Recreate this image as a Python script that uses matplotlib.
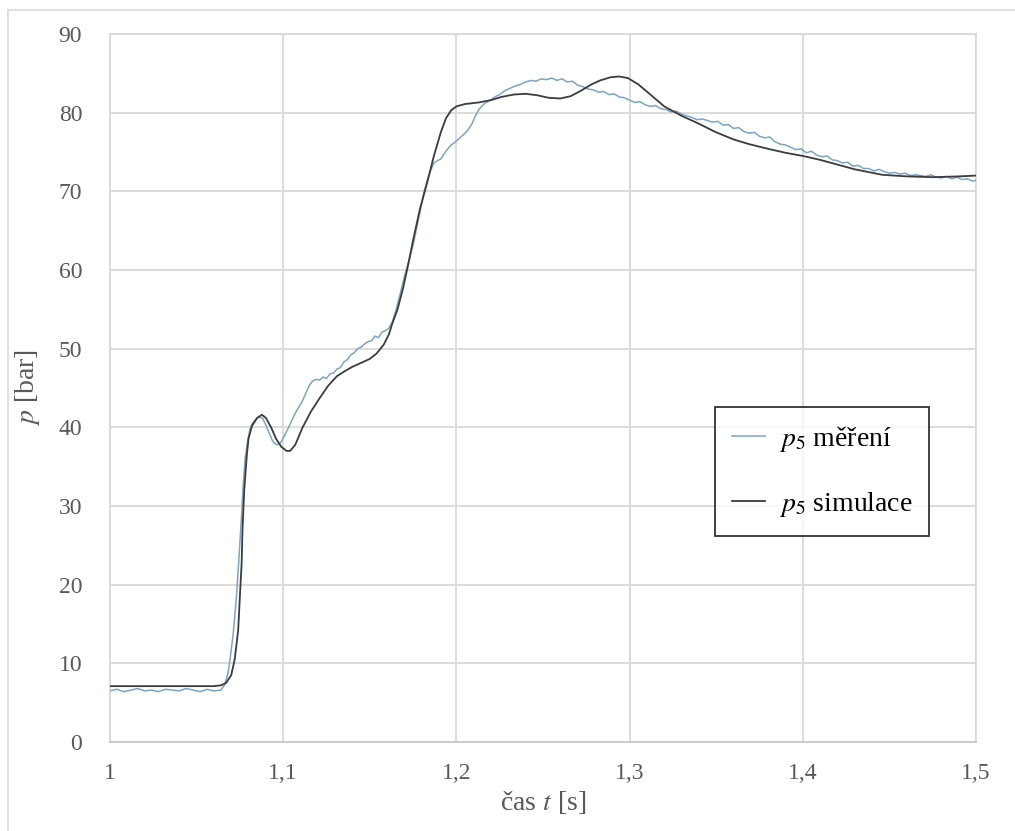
import matplotlib
matplotlib.use("Agg")
import matplotlib.pyplot as plt
from matplotlib.lines import Line2D
from matplotlib.ticker import FuncFormatter

# Simulated pressure p5 (smooth model output)
t_sim = [1.000, 1.060, 1.064, 1.067, 1.070, 1.072, 1.074, 1.075, 1.076, 1.0765,
         1.0775, 1.079, 1.080, 1.082, 1.085, 1.0877, 1.090, 1.093, 1.096, 1.099,
         1.102, 1.104, 1.107, 1.111, 1.116, 1.121, 1.126, 1.131, 1.136, 1.140,
         1.145, 1.150, 1.154, 1.158, 1.161, 1.163, 1.166, 1.169, 1.172, 1.175,
         1.179, 1.183, 1.187, 1.191, 1.194, 1.197, 1.200, 1.205, 1.213, 1.220,
         1.226, 1.233, 1.240, 1.247, 1.253, 1.260, 1.266, 1.272, 1.278, 1.283,
         1.289, 1.294, 1.299, 1.305, 1.312, 1.320, 1.330, 1.339, 1.350, 1.360,
         1.369, 1.380, 1.390, 1.400, 1.410, 1.420, 1.430, 1.446, 1.460, 1.475,
         1.490, 1.500]
p_sim = [7.1, 7.1, 7.2, 7.5, 8.5, 10.5, 14.2, 18.5, 22.7, 27.0,
         32.0, 36.5, 38.6, 40.2, 41.2, 41.6, 41.2, 40.0, 38.5, 37.5,
         37.0, 37.0, 37.8, 39.9, 42.0, 43.7, 45.3, 46.5, 47.2, 47.7,
         48.2, 48.7, 49.4, 50.5, 51.8, 53.2, 55.0, 57.5, 60.5, 63.8,
         67.8, 71.0, 74.5, 77.5, 79.3, 80.3, 80.8, 81.1, 81.3, 81.6,
         82.0, 82.3, 82.4, 82.2, 81.9, 81.8, 82.1, 82.8, 83.6, 84.1,
         84.5, 84.6, 84.4, 83.6, 82.3, 80.8, 79.6, 78.7, 77.5, 76.6,
         76.0, 75.4, 74.9, 74.5, 74.0, 73.4, 72.8, 72.1, 71.9, 71.8,
         71.9, 72.0]

# Measured pressure p5 (sensor record)
t_meas = [1.000, 1.004, 1.008, 1.012, 1.016, 1.020, 1.024, 1.028, 1.032, 1.036,
          1.040, 1.044, 1.048, 1.052, 1.056, 1.060, 1.064, 1.066, 1.068, 1.069,
          1.071, 1.073, 1.0745, 1.076, 1.077, 1.078, 1.0795, 1.081, 1.0825, 1.084,
          1.086, 1.088, 1.090, 1.092, 1.094, 1.096, 1.098, 1.100, 1.102, 1.104,
          1.1065, 1.109, 1.111, 1.113, 1.115, 1.117, 1.119, 1.121, 1.123, 1.125,
          1.127, 1.129, 1.131, 1.133, 1.135, 1.137, 1.139, 1.141, 1.143, 1.145,
          1.147, 1.149, 1.151, 1.153, 1.155, 1.157, 1.159, 1.161, 1.163, 1.165,
          1.167, 1.169, 1.171, 1.173, 1.175, 1.177, 1.179, 1.181, 1.183, 1.185,
          1.187, 1.189, 1.191, 1.193, 1.195, 1.197, 1.199, 1.201, 1.203, 1.205,
          1.207, 1.209, 1.211, 1.213, 1.215, 1.217, 1.219, 1.221, 1.223, 1.225,
          1.228, 1.231, 1.234, 1.237, 1.240, 1.243, 1.246, 1.249, 1.252, 1.255,
          1.258, 1.261, 1.264, 1.267, 1.270, 1.273, 1.276, 1.279, 1.282, 1.285,
          1.288, 1.291, 1.294, 1.297, 1.300, 1.303, 1.306, 1.309, 1.312, 1.315,
          1.318, 1.321, 1.324, 1.327, 1.330, 1.333, 1.336, 1.339, 1.342, 1.345,
          1.348, 1.351, 1.354, 1.357, 1.360, 1.363, 1.366, 1.369, 1.372, 1.375,
          1.378, 1.381, 1.384, 1.387, 1.390, 1.393, 1.396, 1.399, 1.402, 1.405,
          1.408, 1.411, 1.414, 1.417, 1.420, 1.423, 1.426, 1.429, 1.432, 1.435,
          1.438, 1.441, 1.444, 1.447, 1.450, 1.453, 1.456, 1.459, 1.462, 1.465,
          1.468, 1.471, 1.474, 1.477, 1.480, 1.483, 1.486, 1.489, 1.492, 1.495,
          1.498, 1.500]
p_meas = [6.5, 6.7, 6.4, 6.6, 6.8, 6.5, 6.6, 6.4, 6.7, 6.6,
          6.5, 6.8, 6.6, 6.4, 6.7, 6.5, 6.6, 7.2, 8.6, 10.0,
          13.5, 18.4, 23.5, 29.0, 33.0, 36.0, 38.3, 39.9, 40.6, 41.0,
          41.3, 41.2, 40.3, 39.2, 38.2, 37.8, 37.9, 38.6, 39.5, 40.4,
          41.6, 42.6, 43.3, 44.3, 45.3, 45.9, 46.1, 46.0, 46.4, 46.2,
          46.8, 46.9, 47.4, 47.6, 48.3, 48.6, 49.2, 49.5, 50.0, 50.2,
          50.6, 50.9, 51.0, 51.6, 51.4, 52.1, 52.3, 52.6, 53.4, 54.8,
          56.5, 58.3, 60.0, 61.5, 63.2, 65.3, 67.4, 69.6, 71.3, 72.6,
          73.6, 73.9, 74.1, 74.8, 75.4, 75.9, 76.2, 76.6, 77.0, 77.4,
          77.9, 78.6, 79.6, 80.4, 80.9, 81.3, 81.5, 81.8, 82.1, 82.3,
          82.8, 83.1, 83.4, 83.6, 83.9, 84.1, 84.0, 84.3, 84.2, 84.4,
          84.1, 84.3, 83.9, 84.0, 83.5, 83.3, 83.0, 82.9, 82.6, 82.7,
          82.3, 82.4, 82.0, 81.9, 81.6, 81.3, 81.4, 81.0, 80.8, 80.9,
          80.5, 80.4, 80.1, 80.2, 79.8, 79.6, 79.4, 79.1, 79.2, 79.0,
          78.8, 78.9, 78.4, 78.5, 78.0, 78.1, 77.6, 77.4, 77.5, 77.0,
          76.8, 76.9, 76.3, 76.0, 75.9, 75.6, 75.3, 75.4, 74.9, 75.1,
          74.6, 74.4, 74.5, 74.0, 73.9, 73.6, 73.7, 73.2, 73.3, 72.9,
          72.9, 72.6, 72.8, 72.5, 72.3, 72.4, 72.2, 72.3, 72.0, 72.1,
          72.0, 71.9, 72.1, 71.8, 71.7, 71.9, 71.6, 71.8, 71.5, 71.6,
          71.3, 71.4]

x_ticks = [1.0, 1.1, 1.2, 1.3, 1.4, 1.5]
y_ticks = [0, 10, 20, 30, 40, 50, 60, 70, 80, 90]

plt.rcParams["font.family"] = ["Liberation Serif", "DejaVu Serif"]
plt.rcParams["mathtext.fontset"] = "stix"

W, H = 1015, 831
fig = plt.figure(figsize=(W / 100, H / 100), dpi=100)
ax = fig.add_axes([110 / W, 1 - 742 / H, 866 / W, 708 / H])

grid_c = "#d9d9d9"
text_c = "#595959"

ax.plot(t_meas, p_meas, color="#7aa4c8", lw=1.1, label=r"$p_{5}$ měření", zorder=3)
ax.plot(t_sim, p_sim, color="#3c3c3c", lw=1.3, label=r"$p_{5}$ simulace", zorder=4)

ax.set_xlim(1.0, 1.5)
ax.set_ylim(0, 90)
ax.set_xticks(x_ticks)
ax.set_yticks(y_ticks)
ax.xaxis.set_major_formatter(FuncFormatter(lambda v, _: f"{v:g}".replace(".", ",")))
ax.grid(True, color=grid_c, lw=1.3)
ax.set_axisbelow(True)
for s in ax.spines.values():
    s.set_color(grid_c)
    s.set_linewidth(1.3)
ax.spines["bottom"].set_color("#c8c8c8")
ax.tick_params(length=0, labelsize=17, colors=text_c)
ax.tick_params(axis="x", pad=15)
ax.tick_params(axis="y", pad=20)

ax.set_xlabel(r"čas $t$ [s]", fontsize=20, color=text_c, labelpad=4)
ax.set_ylabel(r"$p$ [bar]", fontsize=20, color=text_c, labelpad=12)

leg = ax.legend(loc="upper left", bbox_to_anchor=(0.699, 0.473), fontsize=20,
                frameon=True, fancybox=False, edgecolor="black",
                handlelength=1.2, handletextpad=0.5, labelspacing=1.3,
                borderpad=0.6, borderaxespad=0)
leg.get_frame().set_linewidth(1.3)

# light outer chart border
fig.add_artist(Line2D([8 / W, 8 / W], [0, 1 - 10 / H], transform=fig.transFigure,
                      color="#d9d9d9", lw=1.2))
fig.add_artist(Line2D([8 / W, 1], [1 - 10 / H, 1 - 10 / H], transform=fig.transFigure,
                      color="#d9d9d9", lw=1.2))

fig.savefig("out.png", dpi=100, facecolor="white")
